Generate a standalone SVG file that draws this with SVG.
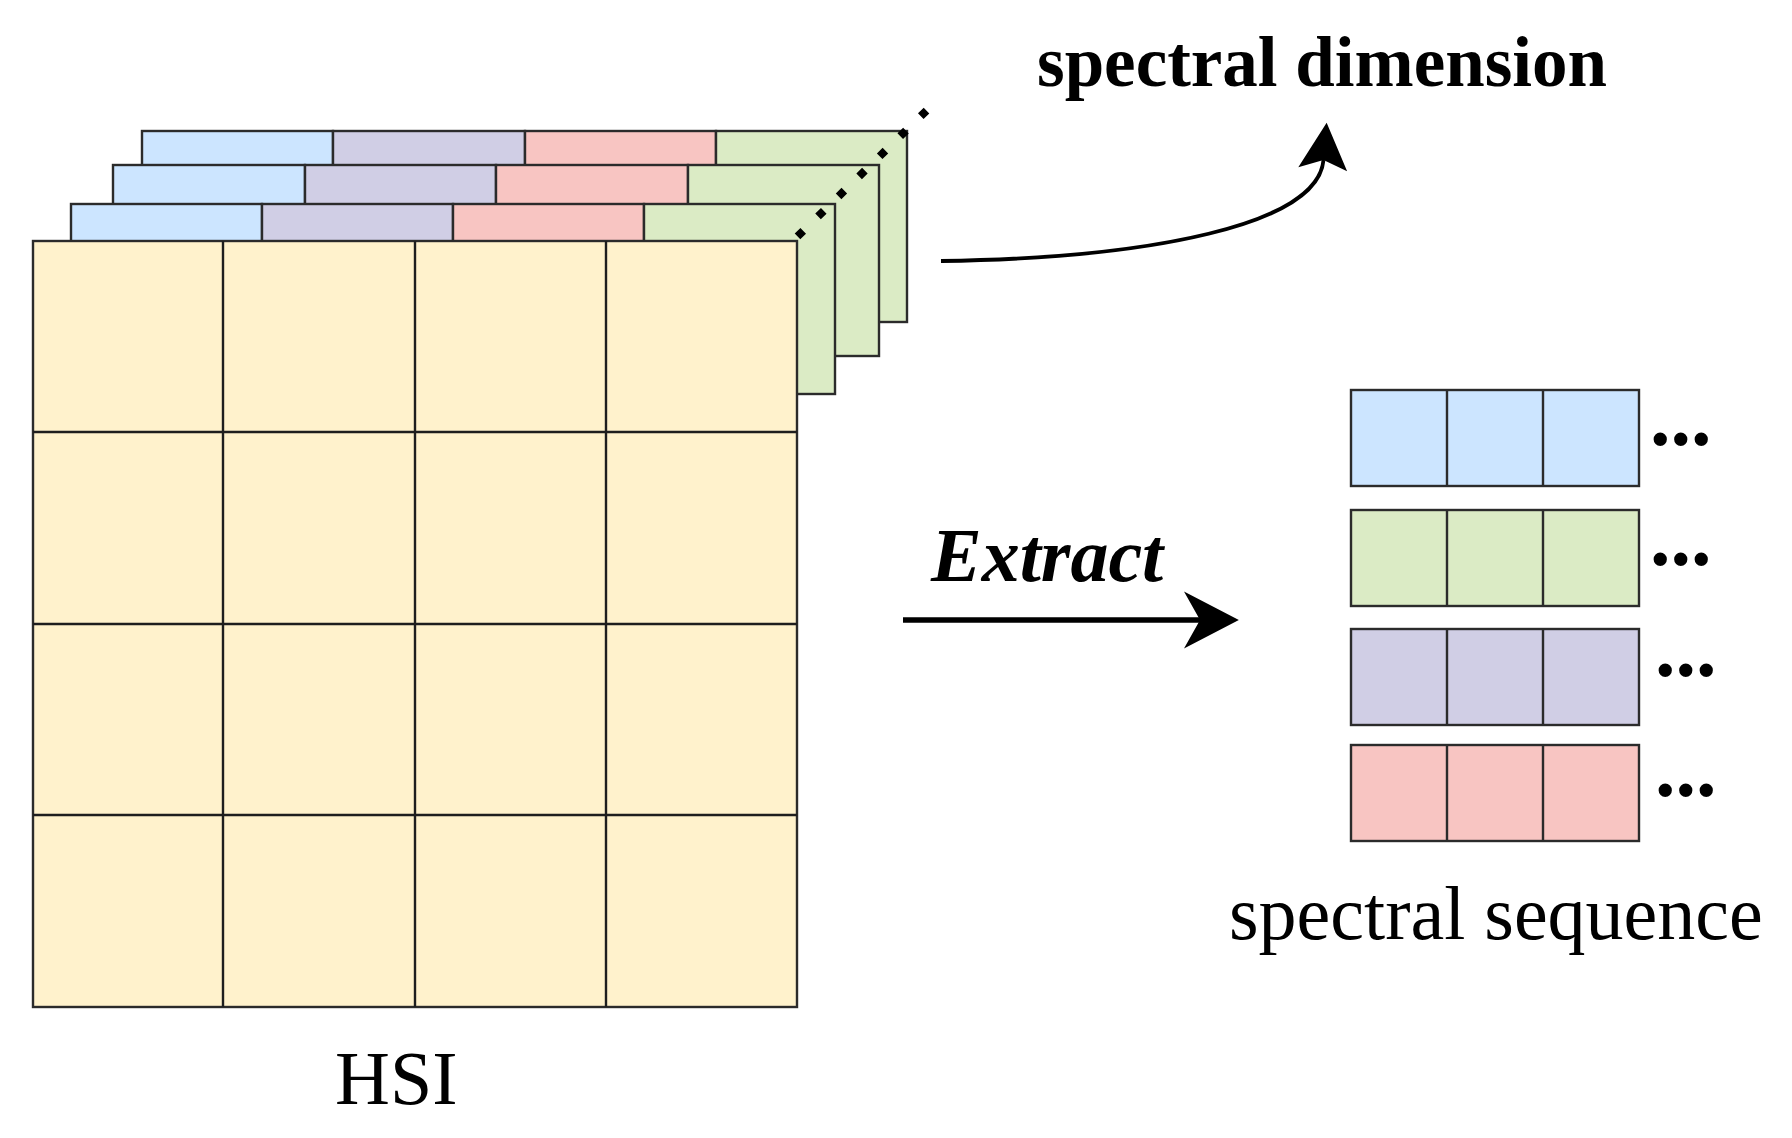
<svg xmlns="http://www.w3.org/2000/svg" width="1792" height="1138" viewBox="0 0 1792 1138">
  <defs>
    <style>
      .cell { stroke: #2b2b2b; stroke-width: 2.4; }
      .blue { fill: #CCE5FF; }
      .purple { fill: #D0CEE5; }
      .red { fill: #F8C5C2; }
      .green { fill: #DBEBC5; }
      .yellow { fill: #FFF2CC; }
      .serif { font-family: "Liberation Serif", "Times New Roman", serif; fill: #000000; }
      .conn { fill: none; stroke: #000000; }
    </style>
    <marker id="headBig" markerUnits="userSpaceOnUse" markerWidth="80" markerHeight="80" viewBox="-20 -30 70 60" refX="0" refY="0" orient="auto">
      <path d="M34,0 L-14,-25 L0,0 L-14,25 Z" fill="#000000"/>
    </marker>
    <marker id="headSmall" markerUnits="userSpaceOnUse" markerWidth="70" markerHeight="70" viewBox="-15 -25 60 50" refX="0" refY="0" orient="auto">
      <path d="M32,0 L-8,-21 L0,0 L-8,21 Z" fill="#000000"/>
    </marker>
  </defs>
  <rect width="1792" height="1138" fill="#ffffff"/>

  <!-- back layer 3 -->
  <g id="layer3">
    <rect class="cell blue" x="142" y="131" width="191" height="191"/>
    <rect class="cell purple" x="333" y="131" width="192" height="191"/>
    <rect class="cell red" x="525" y="131" width="191" height="191"/>
    <rect class="cell green" x="716" y="131" width="191" height="191"/>
  </g>
  <!-- back layer 2 -->
  <g id="layer2">
    <rect class="cell blue" x="113" y="165" width="192" height="191"/>
    <rect class="cell purple" x="305" y="165" width="191" height="191"/>
    <rect class="cell red" x="496" y="165" width="192" height="191"/>
    <rect class="cell green" x="688" y="165" width="191" height="191"/>
  </g>
  <!-- back layer 1 -->
  <g id="layer1">
    <rect class="cell blue" x="71" y="204" width="191" height="190"/>
    <rect class="cell purple" x="262" y="204" width="191" height="190"/>
    <rect class="cell red" x="453" y="204" width="191" height="190"/>
    <rect class="cell green" x="644" y="204" width="191" height="190"/>
  </g>

  <!-- front HSI grid -->
  <g id="hsi">
    <rect class="cell yellow" x="33" y="241" width="764" height="766"/>
    <path d="M223,241 V1007 M415,241 V1007 M606,241 V1007 M33,432 H797 M33,624 H797 M33,815 H797" stroke="#1e1e1e" stroke-width="2.4" fill="none"/>
    <text class="serif" x="335" y="1104" font-size="76">HSI</text>
  </g>

  <!-- spectral sequences -->
  <g id="seq-blue">
    <rect class="cell blue" x="1351" y="390" width="288" height="96"/>
    <path d="M1447,390 V486 M1543,390 V486" stroke="#2b2b2b" stroke-width="2.4"/>
    <text class="serif" x="1650" y="445" font-size="82" font-weight="bold">...</text>
  </g>
  <g id="seq-green">
    <rect class="cell green" x="1351" y="510" width="288" height="96"/>
    <path d="M1447,510 V606 M1543,510 V606" stroke="#2b2b2b" stroke-width="2.4"/>
    <text class="serif" x="1650" y="565" font-size="82" font-weight="bold">...</text>
  </g>
  <g id="seq-purple">
    <rect class="cell purple" x="1351" y="629" width="288" height="96"/>
    <path d="M1447,629 V725 M1543,629 V725" stroke="#2b2b2b" stroke-width="2.4"/>
    <text class="serif" x="1655" y="676" font-size="82" font-weight="bold">...</text>
  </g>
  <g id="seq-red">
    <rect class="cell red" x="1351" y="745" width="288" height="96"/>
    <path d="M1447,745 V841 M1543,745 V841" stroke="#2b2b2b" stroke-width="2.4"/>
    <text class="serif" x="1655" y="796" font-size="82" font-weight="bold">...</text>
  </g>

  <g id="labels">
    <text class="serif" x="1037" y="86" font-size="71" font-weight="bold">spectral dimension</text>
    <text class="serif" x="931" y="581" font-size="76" font-weight="bold" font-style="italic">Extract</text>
    <text class="serif" x="1229" y="939" font-size="76">spectral sequence</text>
  </g>

  <!-- connectors -->
  <g id="connectors">
    <line class="conn" x1="797.5" y1="236.4" x2="927.2" y2="109.9" stroke-width="8" stroke-linecap="butt" stroke-dasharray="8 20.7"/>
    <path class="conn" d="M941,261 C1150,258 1318,225 1323.5,160" stroke-width="3.8" marker-end="url(#headSmall)"/>
    <line class="conn" x1="903" y1="620" x2="1200" y2="620" stroke-width="5.5" marker-end="url(#headBig)"/>
  </g>
</svg>
